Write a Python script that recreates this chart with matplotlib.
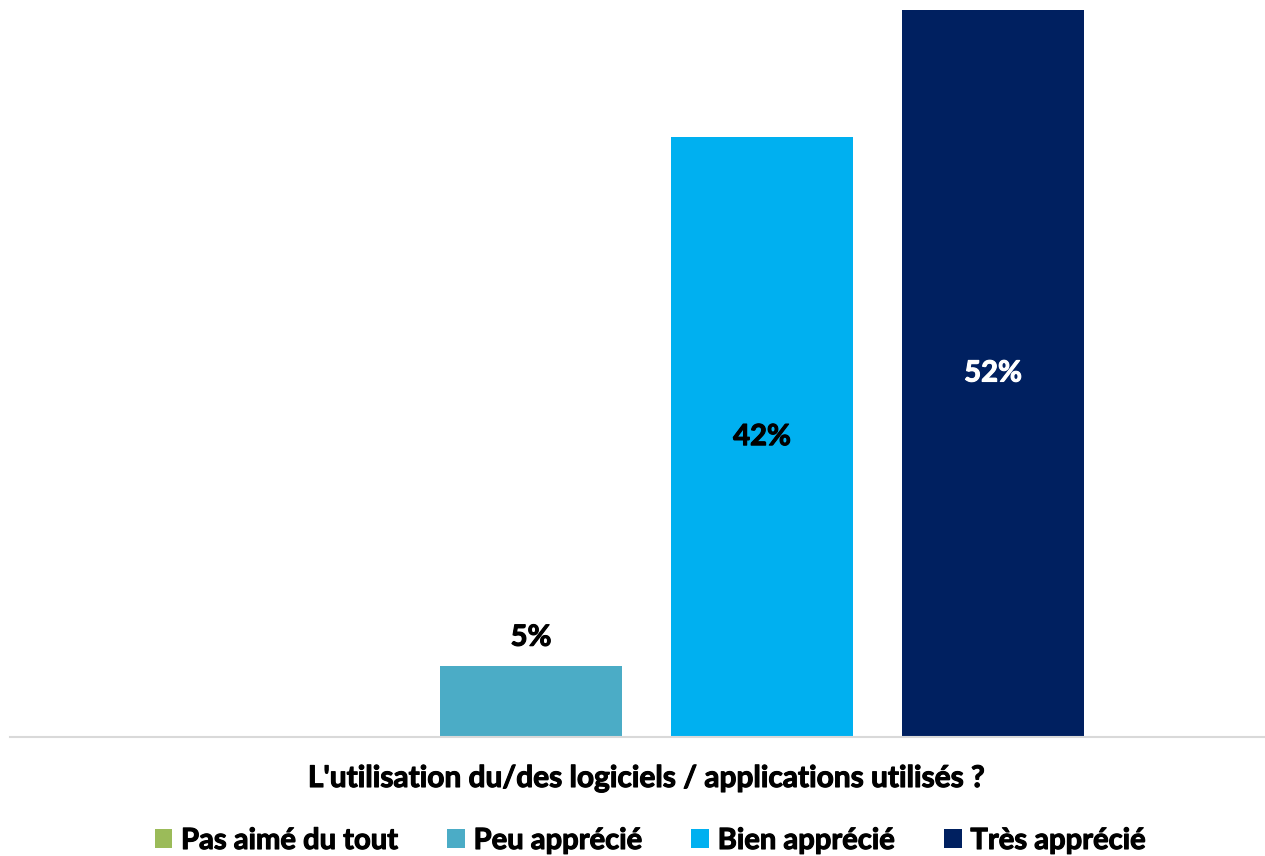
import numpy as np
import matplotlib.pyplot as plt
from matplotlib.patches import Patch
import matplotlib.patheffects as pe

# survey answers (single question, four levels)
series = ["Pas aimé du tout", "Peu apprécié", "Bien apprécié", "Très apprécié"]
values = [0.0, 5.1, 42.9, 52.0]
labels = ["", "5%", "42%", "52%"]
colors = ["#9BBB59", "#4BACC6", "#00B0F0", "#002060"]
category = "L'utilisation du/des logiciels / applications utilisés ?"

plt.rcParams['font.family'] = ['Lato', 'DejaVu Sans']
plt.rcParams['font.weight'] = 'bold'


def heavy(c):
    # thicken the bold glyphs a bit, closer to the original's look
    return [pe.withStroke(linewidth=0.8, foreground=c)]


fig = plt.figure(figsize=(12.65, 8.56), dpi=100)
# axes spans from the very top down to the baseline at y=737px
ax = fig.add_axes([10 / 1265, (856 - 737) / 856, 1 - 10 / 1265, 737 / 856])

x = np.arange(len(series))
width = 0.788
bars = ax.bar(x, values, width=width, color=colors)

# label placement: small bar gets label above, tall bars centred
label_colors = ["black", "black", "black", "white"]
for i, (b, lab) in enumerate(zip(bars, labels)):
    if not lab:
        continue
    h = b.get_height()
    y = h + 2.0 if h < 10 else h / 2
    ax.text(b.get_x() + b.get_width() / 2, y, lab, ha='center', va='center',
            fontsize=21, fontweight='bold', color=label_colors[i],
            path_effects=heavy(label_colors[i]))

ax.set_xlim(-1.255, 4.177)
ax.set_ylim(0, 52.0 * 737 / 727)
ax.set_yticks([])
ax.set_xticks([])
for s in ['top', 'right', 'left']:
    ax.spines[s].set_visible(False)
ax.spines['bottom'].set_color('#D9D9D9')
ax.spines['bottom'].set_linewidth(1.5)

fig.text((300 + 992.5) / 2 / 1265, 1 - 778 / 856, category, ha='center', va='center',
         fontsize=21.5, fontweight='bold', path_effects=heavy('black'))

handles = [Patch(facecolor=c, edgecolor='none') for c in colors]
leg = fig.legend(handles, series, loc='center', bbox_to_anchor=(650 / 1265, 1 - 841 / 856),
                 ncol=4, frameon=False, handlelength=0.6, handleheight=0.6,
                 handletextpad=0.3, columnspacing=1.7, prop={'weight': 'bold', 'size': 21})
for t in leg.get_texts():
    t.set_path_effects(heavy('black'))

fig.savefig('out.png', dpi=100)
